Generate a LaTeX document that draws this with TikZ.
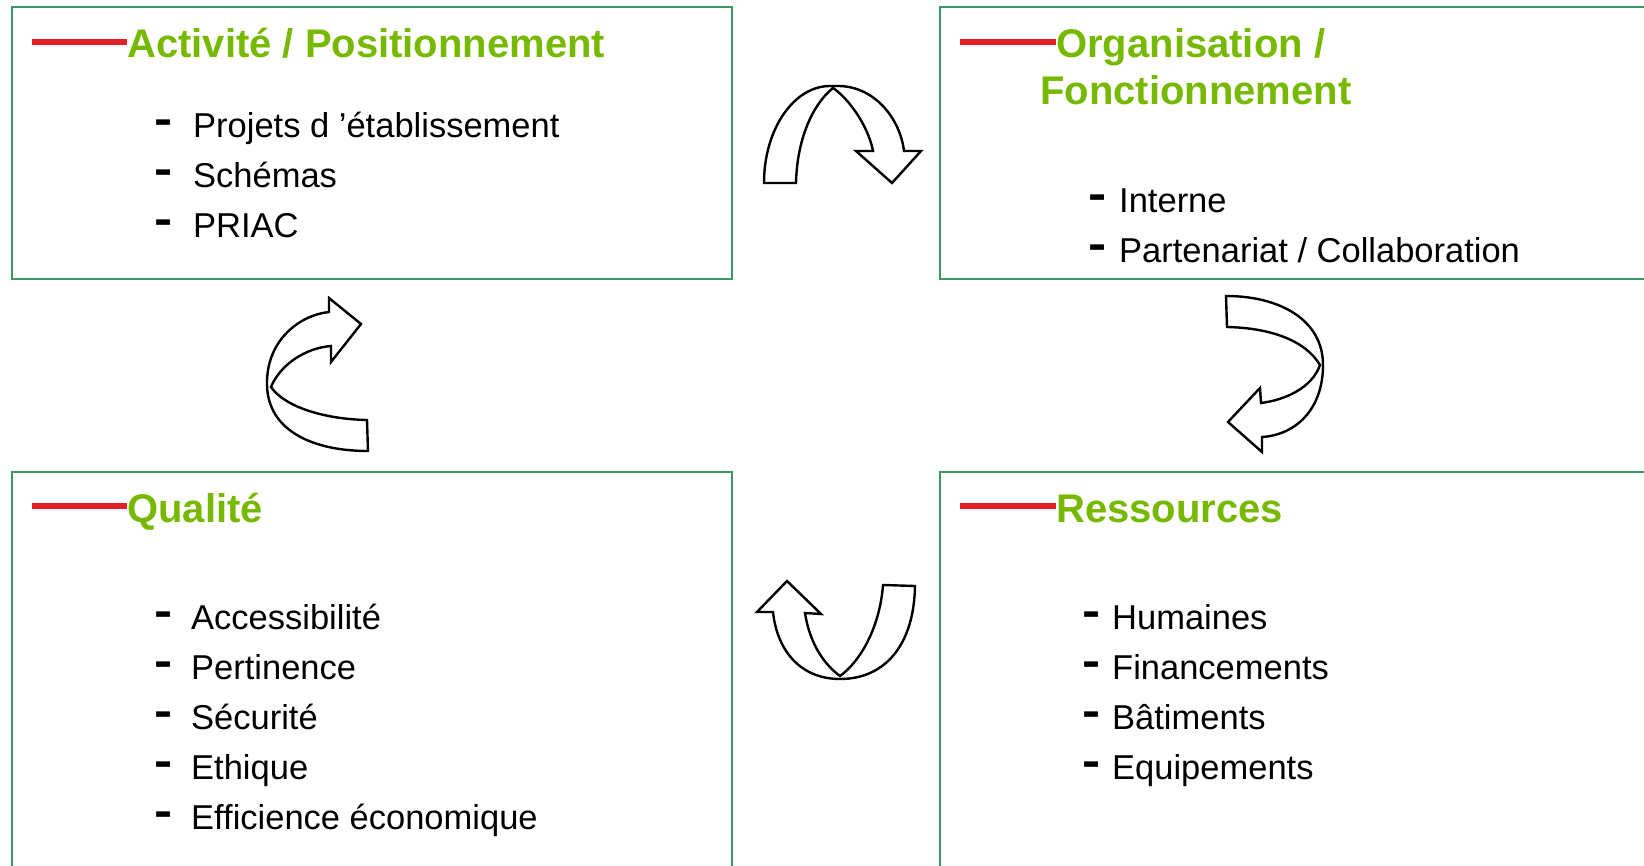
\documentclass[tikz,border=0pt]{standalone}
\usepackage{fontspec}
\setmainfont{Liberation Sans}
\definecolor{boxgreen}{RGB}{60,152,98}
\definecolor{titlegreen}{RGB}{118,185,0}
\definecolor{barred}{RGB}{226,30,40}
\begin{document}
\begin{tikzpicture}[x=1pt,y=-1pt,
  panel/.style={draw=boxgreen, line width=2pt},
  ttl/.style={anchor=base west, inner sep=0pt, font=\fontsize{40}{46}\selectfont\bfseries, text=titlegreen},
  itm/.style={anchor=base west, inner sep=0pt, font=\fontsize{34.5}{40}\selectfont},
  dashmark/.style={anchor=base west, inner sep=0pt, yshift=3pt, font=\fontsize{34}{40}\selectfont\bfseries},
  redbar/.style={draw=barred, line width=6pt},
  curvy/.style={draw=black, fill=white, line width=2.4pt, line join=miter}]
\useasboundingbox (0,0) rectangle (1644,866);
\clip (0,0) rectangle (1644,866);

% panels
\draw[panel] (11.5,7.5) rectangle (732,279);
\draw[panel] (939.5,7.5) rectangle (1660,279);
\draw[panel] (11.5,472) rectangle (732,880);
\draw[panel] (939.5,472) rectangle (1660,880);

% titles
\node[ttl] (t1) at (127,58) {Activité / Positionnement};
\node[ttl] (t2a) at (1056,58) {Organisation /};
\node[ttl] (t2b) at (1040,105) {Fonctionnement};
\node[ttl] (t3) at (127,522) {Qualité};
\node[ttl] (t4) at (1056,522) {Ressources};
\coordinate (r1) at (32,42);
\coordinate (r2) at (960,42);
\coordinate (r3) at (32,506);
\coordinate (r4) at (960,506);
\draw[redbar] (r1) -- (r1 -| t1.west);
\draw[redbar] (r2) -- (r2 -| t2a.west);
\draw[redbar] (r3) -- (r3 -| t3.west);
\draw[redbar] (r4) -- (r4 -| t4.west);

% items top-left
\foreach \y/\t [count=\i] in {138/{Projets d ’établissement},188/{Schémas},238/{PRIAC}}{
  \node[dashmark] (da\i) at (154,\y) {\scalebox{1.6}[1.35]{-}};
  \node[itm] (ia\i) at (193,\y) {\t};
}
% items top-right
\foreach \y/\t [count=\i] in {213/{Interne},263/{Partenariat / Collaboration}}{
  \node[dashmark] (db\i) at (1088,\y) {\scalebox{1.6}[1.35]{-}};
  \node[itm] (ib\i) at (1119,\y) {\t};
}
% items bottom-left
\foreach \y/\t [count=\i] in {629/{Accessibilité},679/{Pertinence},729/{Sécurité},779/{Ethique},829/{Efficience économique}}{
  \node[dashmark] (dc\i) at (154,\y) {\scalebox{1.6}[1.35]{-}};
  \node[itm] (ic\i) at (191,\y) {\t};
}
% items bottom-right
\foreach \y/\t [count=\i] in {629/{Humaines},679/{Financements},729/{Bâtiments},779/{Equipements}}{
  \node[dashmark] (dd\i) at (1082,\y) {\scalebox{1.6}[1.35]{-}};
  \node[itm] (id\i) at (1112,\y) {\t};
}

% curved arrow top (left to right, down)
\draw[curvy] (764,183) .. controls (764,129) and (794,86) .. (830,86)
  -- (838,86) .. controls (874,86) and (900,118) .. (904,151)
  -- (921,151) -- (892,183) -- (856,151) -- (873,151)
  .. controls (868,125) and (848,98) .. (833,88)
  .. controls (812,105) and (797,140) .. (796,183) -- cycle;

% curved arrow right (down, to the left)
\draw[curvy] (1226,296) .. controls (1280,296) and (1323,320) .. (1323,365)
  .. controls (1323,410) and (1295,435) .. (1262,437)
  -- (1262,452) -- (1228,422) -- (1260,388) -- (1261,403)
  .. controls (1285,400) and (1312,388) .. (1320,365)
  .. controls (1305,340) and (1270,328) .. (1227,327) -- cycle;

% curved arrow bottom (right to left, up)
\draw[curvy] (787,581) -- (821,614) -- (805,613)
  .. controls (810,645) and (825,665) .. (840,676)
  .. controls (862,660) and (880,625) .. (883,585)
  -- (915,586) .. controls (914,645) and (885,679) .. (840,679)
  .. controls (800,679) and (777,650) .. (773,612)
  -- (757,612) -- cycle;

% curved arrow left (up, to the right)
\draw[curvy] (368,451) .. controls (315,451) and (268,432) .. (267,385)
  .. controls (266,340) and (300,315) .. (329,312)
  -- (329,298) -- (361,324) -- (331,362) -- (331,346)
  .. controls (305,348) and (280,365) .. (271,387)
  .. controls (283,405) and (320,419) .. (367,420) -- cycle;
\end{tikzpicture}
\end{document}
